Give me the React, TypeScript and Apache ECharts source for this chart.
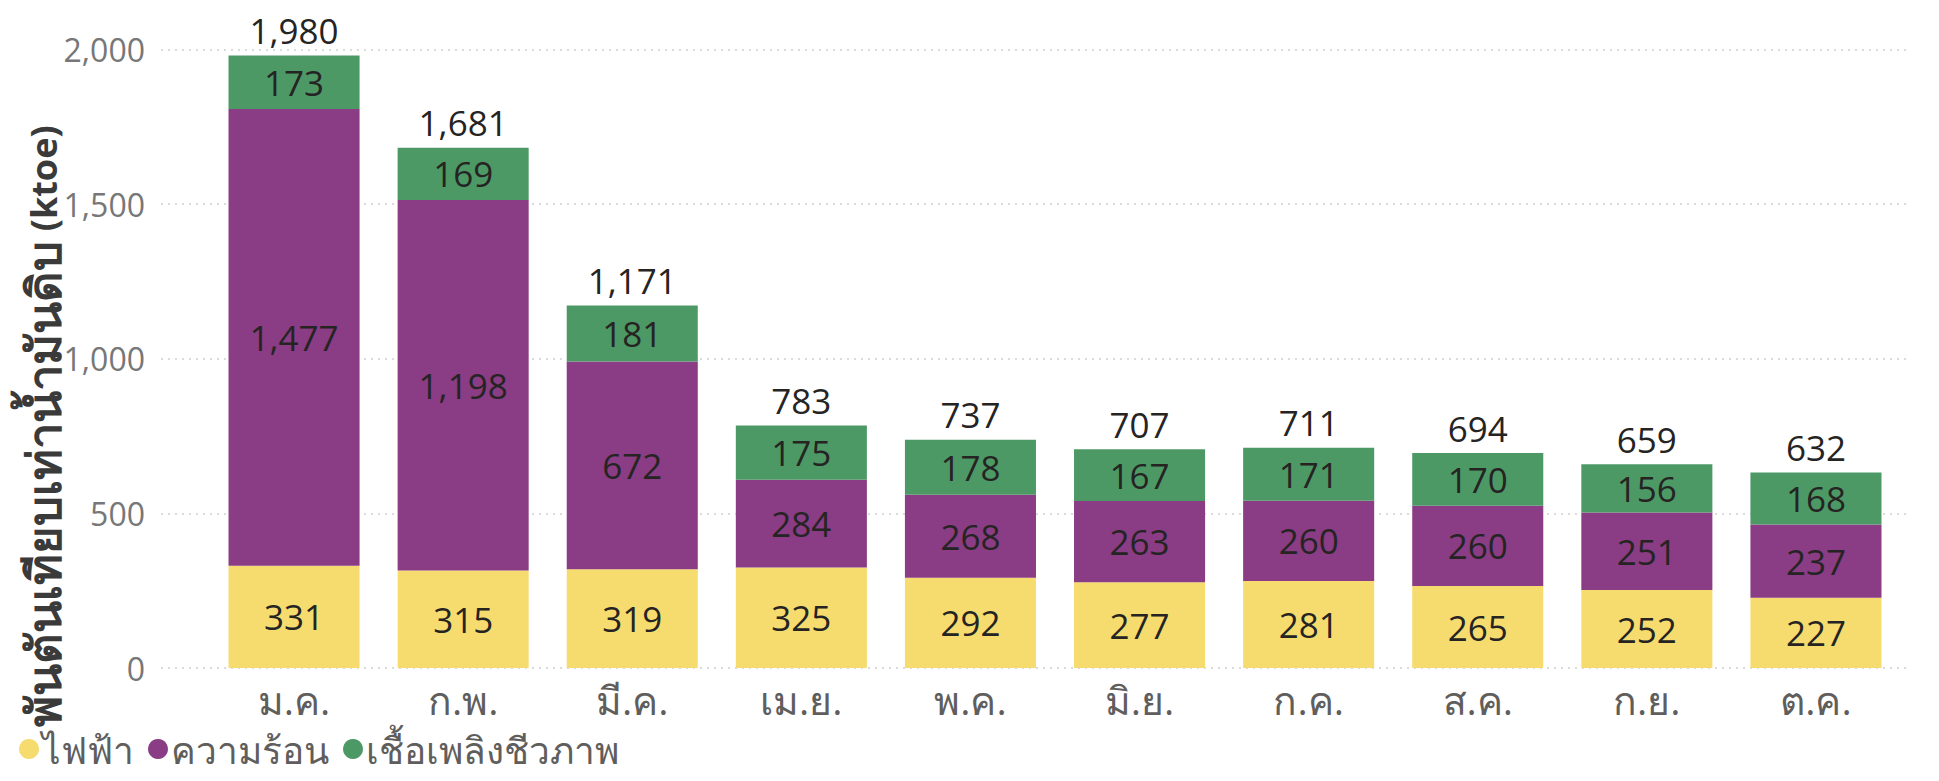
import React, { useEffect, useRef } from "react";
import * as echarts from "echarts";

const categories = ["ม.ค.", "ก.พ.", "มี.ค.", "เม.ย.", "พ.ค.", "มิ.ย.", "ก.ค.", "ส.ค.", "ก.ย.", "ต.ค."];
const electricity = [331, 315, 319, 325, 292, 277, 281, 265, 252, 227];
const heat = [1477, 1198, 672, 284, 268, 263, 260, 260, 251, 237];
const biofuel = [173, 169, 181, 175, 178, 167, 171, 170, 156, 168];
const totals = [1980, 1681, 1171, 783, 737, 707, 711, 694, 659, 632];
const seriesNames = ["ไฟฟ้า", "ความร้อน", "เชื้อเพลิงชีวภาพ"];
const yTicks = { min: 0, max: 2000, interval: 500 };
const yTitleThai = "พันตันเทียบเท่าน้ำมันดิบ";
const yTitleUnit = "(ktoe)";

const FONT = "'Open Sans', 'Noto Sans', sans-serif";
const fmt = (v: number) => v.toLocaleString("en-US");

export default function App() {
  const ref = useRef<HTMLDivElement>(null);
  useEffect(() => {
    if (!ref.current) return;
    const chart = echarts.init(ref.current, null, { renderer: "svg" });
    const top = 41.5;
    const bottom = 105;
    const innerLabel = {
      show: true,
      position: "inside",
      color: "#252423",
      fontSize: 35,
      fontFamily: FONT,
      formatter: (p: any) => fmt(p.value),
    };
    const colors = ["#F6DC6E", "#8A3C84", "#4D9966"];
    chart.setOption({
      animation: false,
      textStyle: { fontFamily: FONT },
      grid: [
        { left: 201.5, right: 30.5, top, bottom },
        { left: 153, right: 20, top, bottom },
      ],
      legend: {
        data: seriesNames,
        left: 6,
        top: 717,
        icon: "circle",
        itemWidth: 20,
        itemHeight: 20,
        itemGap: 14,
        textStyle: {
          fontSize: 37,
          lineHeight: 38,
          color: "#605E5C",
          fontFamily: FONT,
          padding: [0, 0, 0, -2],
        },
      },
      xAxis: [
        {
          type: "category",
          data: categories,
          gridIndex: 0,
          axisLine: { show: false },
          axisTick: { show: false },
          axisLabel: { color: "#605E5C", fontSize: 39, lineHeight: 40, margin: 11, fontFamily: FONT },
        },
        { type: "value", gridIndex: 1, show: false, min: 0, max: 1 },
      ],
      yAxis: [
        { type: "value", gridIndex: 0, ...yTicks, show: false },
        {
          type: "value",
          gridIndex: 1,
          ...yTicks,
          axisLine: { show: false },
          axisTick: { show: false },
          axisLabel: {
            color: "#777777",
            fontSize: 32,
            margin: 16,
            fontFamily: FONT,
            formatter: (v: number) => fmt(v),
          },
          splitLine: { show: true, lineStyle: { color: "#cfcfcf", width: 1.5, type: [2, 5] } },
        },
      ],
      graphic: [
        {
          type: "text",
          x: 35,
          y: 418,
          rotation: Math.PI / 2,
          style: {
            text: `{t|${yTitleThai}} {u|${yTitleUnit}}`,
            rich: {
              t: { fontSize: 47, lineHeight: 48, fontWeight: "bold", fill: "#3a3a3a", fontFamily: FONT },
              u: { fontSize: 36, lineHeight: 48, fontWeight: "bold", fill: "#3a3a3a", fontFamily: FONT },
            },
            fill: "#3a3a3a",
            font: `bold 36px ${FONT}`,
            align: "center",
            verticalAlign: "middle",
          },
        },
      ],
      series: [
        {
          name: seriesNames[0],
          type: "bar",
          stack: "s",
          data: electricity,
          barWidth: "77.5%",
          itemStyle: { color: colors[0] },
          label: innerLabel,
        },
        {
          name: seriesNames[1],
          type: "bar",
          stack: "s",
          data: heat,
          itemStyle: { color: colors[1] },
          label: innerLabel,
        },
        {
          name: seriesNames[2],
          type: "bar",
          stack: "s",
          data: biofuel,
          itemStyle: { color: colors[2] },
          label: innerLabel,
        },
        {
          name: "รวม",
          type: "bar",
          stack: "s",
          data: totals.map(() => 0),
          itemStyle: { color: "transparent" },
          label: {
            show: true,
            position: "top",
            distance: 9,
            color: "#252423",
            fontSize: 35,
            lineHeight: 32,
            fontFamily: FONT,
            formatter: (p: any) => fmt(totals[p.dataIndex]),
          },
        },
      ],
    });
    return () => chart.dispose();
  }, []);
  return <div ref={ref} style={{ width: 1923, height: 765 }} />;
}
